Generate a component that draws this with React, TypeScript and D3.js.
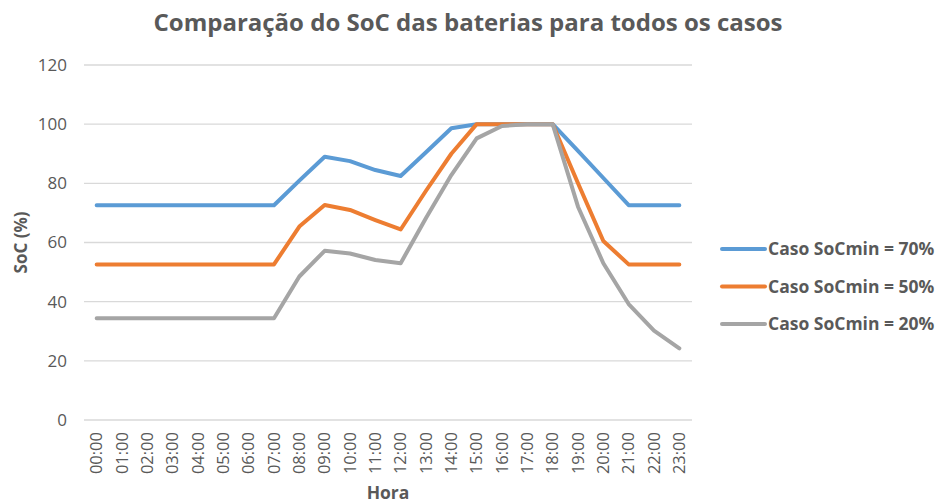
import React, { useEffect, useRef } from "react";
import * as d3 from "d3";

const hours = [
  "00:00", "01:00", "02:00", "03:00", "04:00", "05:00", "06:00", "07:00",
  "08:00", "09:00", "10:00", "11:00", "12:00", "13:00", "14:00", "15:00",
  "16:00", "17:00", "18:00", "19:00", "20:00", "21:00", "22:00", "23:00",
];

const soc70 = [
  72.6, 72.6, 72.6, 72.6, 72.6, 72.6, 72.6, 72.6,
  80.9, 89.0, 87.5, 84.5, 82.5, 90.5, 98.6, 100,
  100, 100, 100, 91.0, 81.8, 72.6, 72.6, 72.6,
];

const soc50 = [
  52.6, 52.6, 52.6, 52.6, 52.6, 52.6, 52.6, 52.6,
  65.4, 72.7, 71.0, 67.6, 64.4, 77.5, 90.0, 100,
  100, 100, 100, 80.0, 60.5, 52.6, 52.6, 52.6,
];

const soc20 = [
  34.4, 34.4, 34.4, 34.4, 34.4, 34.4, 34.4, 34.4,
  48.5, 57.2, 56.3, 54.1, 53.0, 68.3, 82.8, 95.2,
  99.4, 100, 100, 72.1, 53.0, 39.2, 30.2, 24.2,
];

const seriesNames = ["Caso SoCmin = 70%", "Caso SoCmin = 50%", "Caso SoCmin = 20%"];
const seriesColors = ["#5B9BD5", "#ED7D31", "#A5A5A5"];
const yTicks = [0, 20, 40, 60, 80, 100, 120];

const width = 937;
const height = 503;
const margin = { top: 65, right: 245, bottom: 83, left: 84 };

const App = () => {
  const ref = useRef<SVGSVGElement>(null);

  useEffect(() => {
    const svg = d3.select(ref.current);
    svg.selectAll("*").remove();

    const font = "'Open Sans', sans-serif";
    const series = [soc70, soc50, soc20];

    const x = d3
      .scaleBand()
      .domain(hours)
      .range([margin.left, width - margin.right]);
    const y = d3
      .scaleLinear()
      .domain([0, 120])
      .range([height - margin.bottom, margin.top]);

    // gridlines
    svg
      .append("g")
      .selectAll("line")
      .data(yTicks)
      .enter()
      .append("line")
      .attr("x1", margin.left)
      .attr("x2", width - margin.right)
      .attr("y1", (d) => y(d))
      .attr("y2", (d) => y(d))
      .attr("stroke", "#D9D9D9")
      .attr("stroke-width", 1.3);

    // y axis labels
    svg
      .append("g")
      .selectAll("text")
      .data(yTicks)
      .enter()
      .append("text")
      .attr("x", margin.left - 17)
      .attr("y", (d) => y(d))
      .attr("dy", "0.35em")
      .attr("text-anchor", "end")
      .attr("font-family", font)
      .attr("font-size", 17)
      .attr("fill", "#595959")
      .text((d) => d);

    // x axis labels
    svg
      .append("g")
      .selectAll("text")
      .data(hours)
      .enter()
      .append("text")
      .attr(
        "transform",
        (d) => `translate(${x(d)! + x.bandwidth() / 2},${height - margin.bottom + 12}) rotate(-90)`
      )
      .attr("dy", "0.35em")
      .attr("text-anchor", "end")
      .attr("font-family", font)
      .attr("font-size", 16.5)
      .attr("fill", "#595959")
      .text((d) => d);

    const line = d3
      .line<number>()
      .x((d, i) => x(hours[i])! + x.bandwidth() / 2)
      .y((d) => y(d));

    series.forEach((s, i) => {
      svg
        .append("path")
        .datum(s)
        .attr("d", line)
        .attr("fill", "none")
        .attr("stroke", seriesColors[i])
        .attr("stroke-width", 4)
        .attr("stroke-linejoin", "round")
        .attr("stroke-linecap", "round");
    });

    // title
    svg
      .append("text")
      .attr("x", 468)
      .attr("y", 31)
      .attr("text-anchor", "middle")
      .attr("font-family", font)
      .attr("font-weight", "bold")
      .attr("font-size", 24)
      .attr("fill", "#595959")
      .text("Comparação do SoC das baterias para todos os casos");

    // axis titles
    svg
      .append("text")
      .attr("transform", `translate(27,${(margin.top + height - margin.bottom) / 2}) rotate(-90)`)
      .attr("text-anchor", "middle")
      .attr("font-family", font)
      .attr("font-weight", "bold")
      .attr("font-size", 17)
      .attr("fill", "#595959")
      .text("SoC (%)");

    svg
      .append("text")
      .attr("x", (margin.left + width - margin.right) / 2)
      .attr("y", 499)
      .attr("text-anchor", "middle")
      .attr("font-family", font)
      .attr("font-weight", "bold")
      .attr("font-size", 17.5)
      .attr("fill", "#595959")
      .text("Hora");

    // legend
    const legend = svg
      .append("g")
      .selectAll("g")
      .data(seriesNames)
      .enter()
      .append("g")
      .attr("transform", (d, i) => `translate(722,${249 + i * 37.5})`);

    legend
      .append("line")
      .attr("x1", 0)
      .attr("x2", 43)
      .attr("stroke", (d, i) => seriesColors[i])
      .attr("stroke-width", 4)
      .attr("stroke-linecap", "round");

    legend
      .append("text")
      .attr("x", 46)
      .attr("dy", "0.35em")
      .attr("font-family", font)
      .attr("font-weight", "bold")
      .attr("font-size", 17.5)
      .attr("fill", "#595959")
      .text((d) => d);
  }, []);

  return (
    <svg
      ref={ref}
      width={width}
      height={height}
      style={{ position: "absolute", left: 0, top: 0, background: "#fff" }}
    />
  );
};

export default App;
